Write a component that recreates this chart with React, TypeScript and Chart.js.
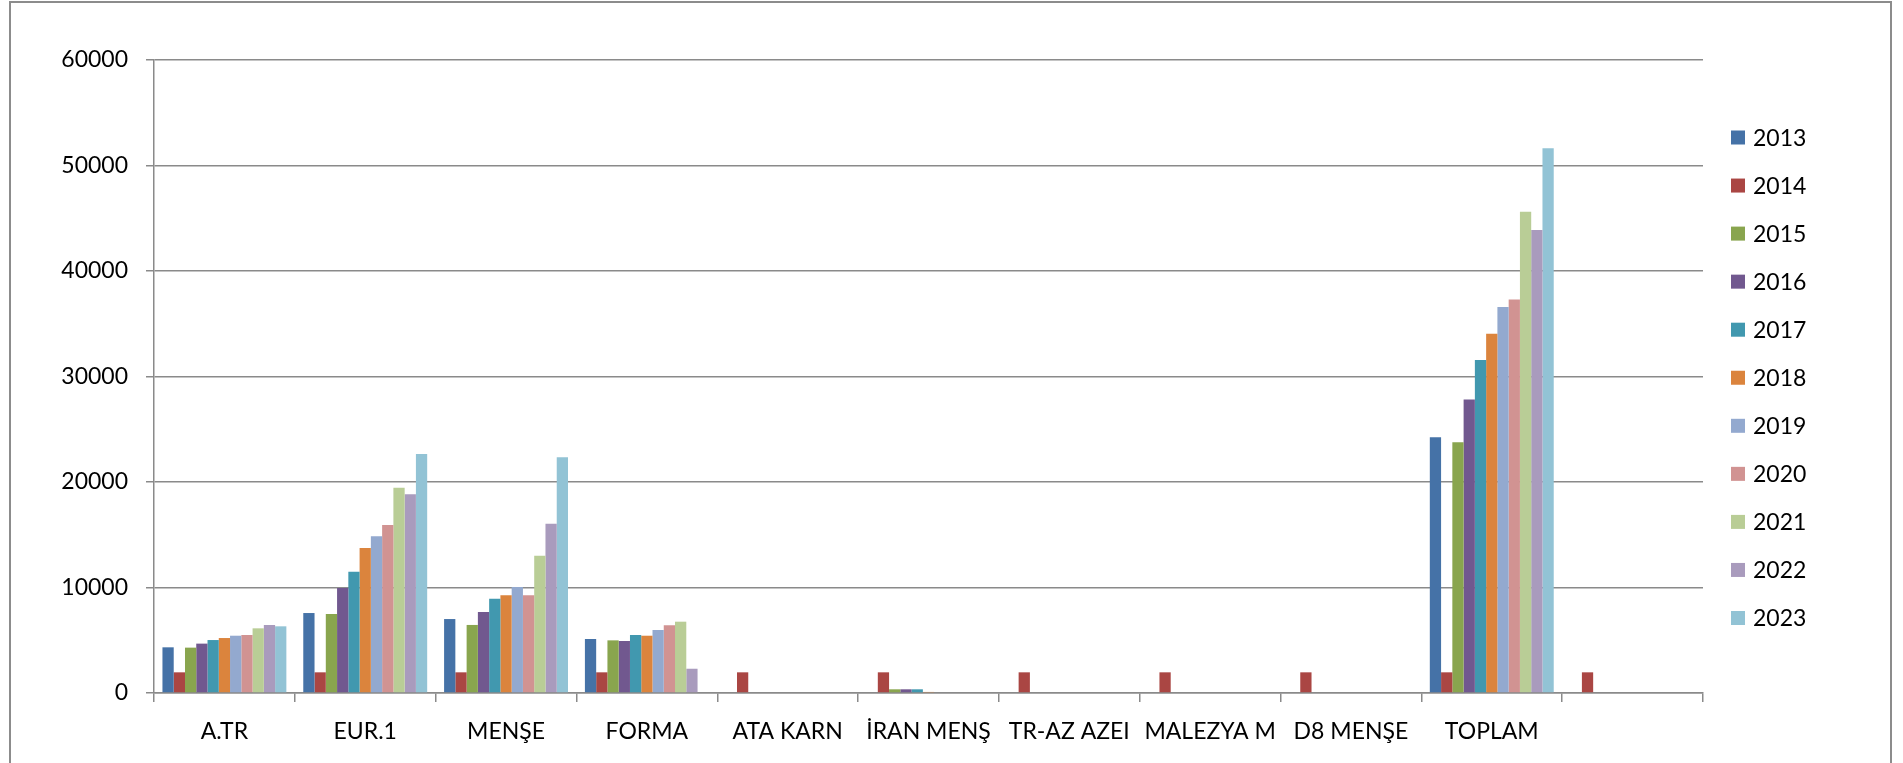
import React, { useEffect, useRef } from "react";
import { Chart, registerables } from "chart.js";

Chart.register(...registerables);

const categories = ["A.TR", "EUR.1", "MENŞE", "FORMA", "ATA KARN", "İRAN MENŞ", "TR-AZ AZEI", "MALEZYA M", "D8 MENŞE", "TOPLAM", ""];
const years = ["2013", "2014", "2015", "2016", "2017", "2018", "2019", "2020", "2021", "2022", "2023"];

const v2013 = [4330, 7580, 7010, 5120, 0, 0, 0, 0, 0, 24230, 0];
const v2014 = [1960, 1960, 1960, 1960, 1960, 1960, 1960, 1960, 1960, 1960, 1960];
const v2015 = [4300, 7490, 6450, 4990, 0, 350, 0, 0, 0, 23760, 0];
const v2016 = [4680, 9950, 7680, 4930, 0, 350, 0, 0, 0, 27830, 0];
const v2017 = [5020, 11500, 8940, 5500, 0, 350, 0, 0, 0, 31560, 0];
const v2018 = [5210, 13740, 9260, 5430, 0, 100, 0, 0, 0, 34060, 0];
const v2019 = [5430, 14850, 10050, 5970, 0, 0, 0, 0, 0, 36590, 0];
const v2020 = [5500, 15920, 9260, 6410, 0, 0, 0, 0, 0, 37310, 0];
const v2021 = [6130, 19460, 13010, 6760, 0, 0, 0, 0, 0, 45620, 0];
const v2022 = [6450, 18830, 16050, 2300, 0, 0, 0, 0, 0, 43890, 0];
const v2023 = [6320, 22650, 22340, 0, 0, 0, 0, 0, 0, 51630, 0];

const seriesValues = [v2013, v2014, v2015, v2016, v2017, v2018, v2019, v2020, v2021, v2022, v2023];
const colors = ["#4572A7", "#AA4643", "#89A54E", "#71588F", "#4198AF", "#DB843D", "#93A9CF", "#D19392", "#B9CD96", "#A99BBD", "#92C3D5"];

const yTicks = [0, 10000, 20000, 30000, 40000, 50000, 60000];

const GRID = "#8a8a8a";
const FONT = "Lato";

const framePlugin = {
  id: "frame",
  beforeDraw(chart: any) {
    const ctx = chart.ctx;
    ctx.save();
    ctx.fillStyle = "#ffffff";
    ctx.fillRect(0, 0, chart.width, chart.height);
    ctx.strokeStyle = "#8c8c8c";
    ctx.lineWidth = 2;
    ctx.strokeRect(10, 2, 1881, 820);
    ctx.restore();
  },
};

const legendPlugin = {
  id: "customLegend",
  afterDraw(chart: any) {
    const ctx = chart.ctx;
    ctx.save();
    ctx.font = `23px ${FONT}`;
    ctx.textBaseline = "middle";
    ctx.textAlign = "left";
    chart.data.datasets.forEach((ds: any, i: number) => {
      const cy = 137.5 + 48.05 * i;
      ctx.fillStyle = ds.backgroundColor;
      ctx.fillRect(1731, cy - 7, 14, 14);
      ctx.fillStyle = "#000000";
      ctx.fillText(ds.label, 1753, cy + 1);
    });
    ctx.restore();
  },
};

export default function App() {
  const ref = useRef<HTMLCanvasElement | null>(null);
  useEffect(() => {
    if (!ref.current) return;
    Chart.defaults.font.family = FONT;
    const chart = new Chart(ref.current, {
      type: "bar",
      data: {
        labels: categories,
        datasets: years.map((y, i) => ({
          label: y,
          data: seriesValues[i],
          backgroundColor: colors[i],
          borderWidth: 0,
          categoryPercentage: 0.88,
          barPercentage: 1.0,
        })),
      },
      options: {
        animation: false,
        responsive: false,
        maintainAspectRatio: false,
        layout: { padding: { left: 0, top: 60, right: 200, bottom: 0 } },
        plugins: {
          legend: { display: false },
          tooltip: { enabled: false },
          title: { display: false },
        },
        scales: {
          x: {
            grid: {
              offset: true,
              drawOnChartArea: false,
              drawTicks: true,
              tickLength: 9,
              color: GRID,
              lineWidth: 1.5,
            },
            border: { display: true, color: GRID, width: 1.5 },
            ticks: {
              color: "#000000",
              font: { size: 23, family: FONT },
              padding: 16,
              maxRotation: 0,
              autoSkip: false,
            },
            afterFit: (scale: any) => {
              scale.height = 70;
            },
          },
          y: {
            min: 0,
            max: 60000,
            afterBuildTicks: (scale: any) => {
              scale.ticks = yTicks.map((v) => ({ value: v }));
            },
            grid: {
              color: GRID,
              lineWidth: 1.5,
              drawTicks: true,
              tickLength: 8,
            },
            border: { display: true, color: GRID, width: 1.5 },
            ticks: {
              color: "#000000",
              font: { size: 23, family: FONT },
              padding: 18,
              callback: (v: any) => String(v),
            },
            afterFit: (scale: any) => {
              scale.width = 154;
            },
          },
        },
      },
      plugins: [framePlugin, legendPlugin],
    });
    return () => chart.destroy();
  }, []);
  return (
    <div style={{ position: "absolute", left: 0, top: 0, width: 1903, height: 763 }}>
      <canvas ref={ref} width={1903} height={763} style={{ display: "block" }} />
    </div>
  );
}
